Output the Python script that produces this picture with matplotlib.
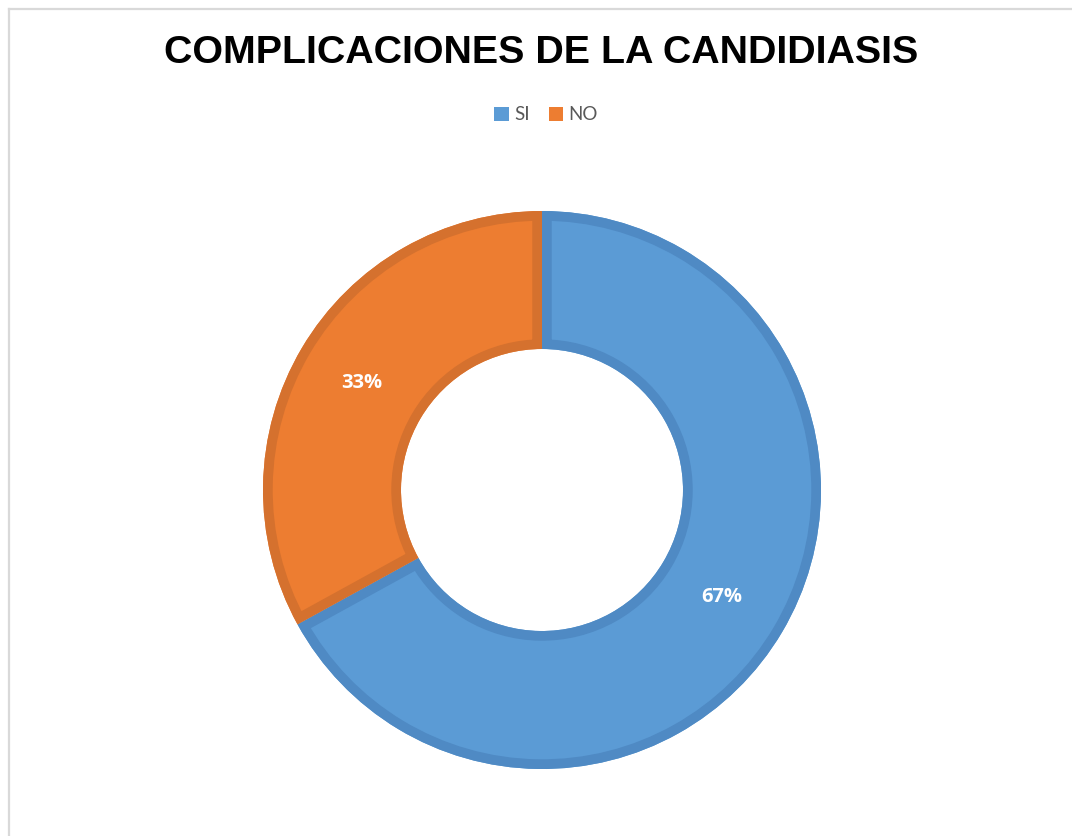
import matplotlib
matplotlib.use("Agg")
import matplotlib.pyplot as plt
from matplotlib.lines import Line2D
from matplotlib.patches import Patch, Wedge

# ---- data ---------------------------------------------------------------
labels = ["SI", "NO"]
values = [67, 33]
title = "COMPLICACIONES DE LA CANDIDIASIS"

FILL = ["#5B9BD5", "#ED7D31"]
EDGE = ["#4F8AC4", "#D5712E"]
GRAY = "#595959"

W, H = 1072, 836
fig = plt.figure(figsize=(W / 100, H / 100), dpi=100)
fig.patch.set_facecolor("white")

# light frame (top + left edges visible)
fig.add_artist(Line2D([9 / W, 1], [1 - 9 / H, 1 - 9 / H], color="#D9D9D9", lw=1.6,
                      transform=fig.transFigure))
fig.add_artist(Line2D([9 / W, 9 / W], [0, 1 - 9 / H], color="#D9D9D9", lw=1.6,
                      transform=fig.transFigure))

# donut axes: centre (542, 490) px, outer radius 279 px
cx, cy, R = 542, 490, 279
half = 300
ax = fig.add_axes([(cx - half) / W, (H - cy - half) / H, 2 * half / W, 2 * half / H])

ring = (279 - 141) / 279
wedges, texts, autotexts = ax.pie(
    values, colors=FILL, startangle=90, counterclock=False, radius=1,
    autopct="%1.0f%%", pctdistance=0.75,
    wedgeprops=dict(width=ring, linewidth=0),
    textprops=dict(color="white", fontsize=14.5, fontweight="bold", family="Open Sans"),
)
ax.set_xlim(-half / R, half / R)
ax.set_ylim(-half / R, half / R)
ax.set_aspect("equal")
ax.axis("off")

# inner stroke: outline copy clipped to its own wedge
for w, ec in zip(wedges, EDGE):
    o = Wedge(w.center, w.r, w.theta1, w.theta2, width=w.width, fill=False,
              edgecolor=ec, linewidth=14, zorder=w.get_zorder() + 0.1)
    ax.add_patch(o)
    o.set_clip_path(w)

# title
fig.text(541 / W, 1 - 53 / H, title, ha="center", va="center",
         fontsize=28.4, fontweight="bold", family="Liberation Sans", color="black")

# legend
handles = [Patch(facecolor=c, edgecolor="none") for c in FILL]
leg = fig.legend(handles, labels, loc="center", bbox_to_anchor=(546 / W, 1 - 115 / H),
                 ncol=2, frameon=False, handlelength=0.75, handleheight=0.75,
                 handletextpad=0.3, columnspacing=1.0,
                 prop=dict(family="Lato", size=13.5))
for t in leg.get_texts():
    t.set_color(GRAY)

fig.savefig("out.png", dpi=100, facecolor="white")
